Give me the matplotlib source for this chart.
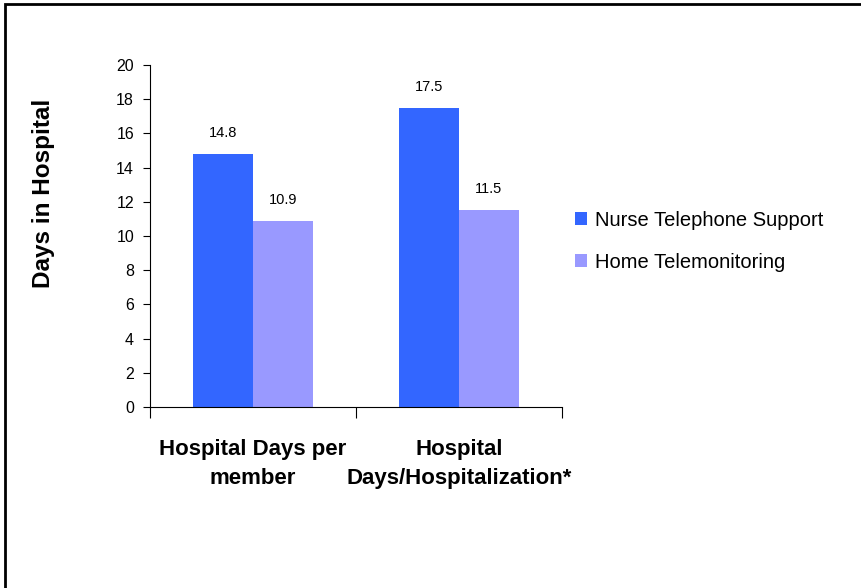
import matplotlib
matplotlib.use("Agg")
import matplotlib.pyplot as plt
import numpy as np
from matplotlib.patches import Rectangle

plt.rcParams['font.family'] = ['Liberation Sans', 'DejaVu Sans']

# data
categories = ["Hospital Days per\nmember", "Hospital\nDays/Hospitalization*"]
series_names = ["Nurse Telephone Support", "Home Telemonitoring"]
nurse_vals = [14.8, 17.5]
home_vals = [10.9, 11.5]
colors = ["#3366FF", "#9999FF"]

fig = plt.figure(figsize=(8.61, 5.88), dpi=100)
ax = fig.add_axes([0.1742, 0.3078, 0.4785, 0.5817])

x = np.arange(len(categories))
w = 0.29
b1 = ax.bar(x - w / 2, nurse_vals, w, color=colors[0], label=series_names[0])
b2 = ax.bar(x + w / 2, home_vals, w, color=colors[1], label=series_names[1])

for bars, vals in ((b1, nurse_vals), (b2, home_vals)):
    for r, v in zip(bars, vals):
        ax.annotate("%.1f" % v, (r.get_x() + r.get_width() / 2, v),
                    xytext=(0, 10), textcoords="offset points",
                    ha="center", va="bottom", fontsize=10.5)

ax.set_xlim(-0.5, len(categories) - 0.5)
ax.set_ylim(0, 20)
ax.set_yticks(np.arange(0, 21, 2))
ax.tick_params(axis='y', labelsize=11.5, length=5, direction='out', pad=6.5)

# boundaries get the tick marks, centres get the labels
ax.set_xticks(np.arange(-0.5, len(categories), 1))
ax.set_xticklabels([])
ax.tick_params(axis='x', which='major', length=8)
ax.set_xticks(x, minor=True)
ax.set_xticklabels(categories, minor=True, fontsize=16, fontweight='bold')
ax.tick_params(axis='x', which='minor', length=0, pad=23)
for t in ax.get_xticklabels(minor=True):
    t.set_linespacing(1.5)

for s in ("top", "right"):
    ax.spines[s].set_visible(False)

ax.set_ylabel("Days in Hospital", fontsize=17.5, fontweight='bold')
ax.yaxis.set_label_coords(-0.23, 0.624)

ax.legend(loc="center left", bbox_to_anchor=(0.647, 0.59),
          bbox_transform=fig.transFigure, frameon=False, fontsize=14.5,
          handlelength=0.6, handleheight=0.6, handletextpad=0.4,
          labelspacing=1.15)

# outer frame (only top and left edges are visible in the source image)
fig.patches.append(Rectangle((5 / 861, -0.1), 1.2, 1.1 - 4 / 588,
                             transform=fig.transFigure, fill=False,
                             edgecolor="black", linewidth=2))

fig.savefig("out.png", dpi=100)
